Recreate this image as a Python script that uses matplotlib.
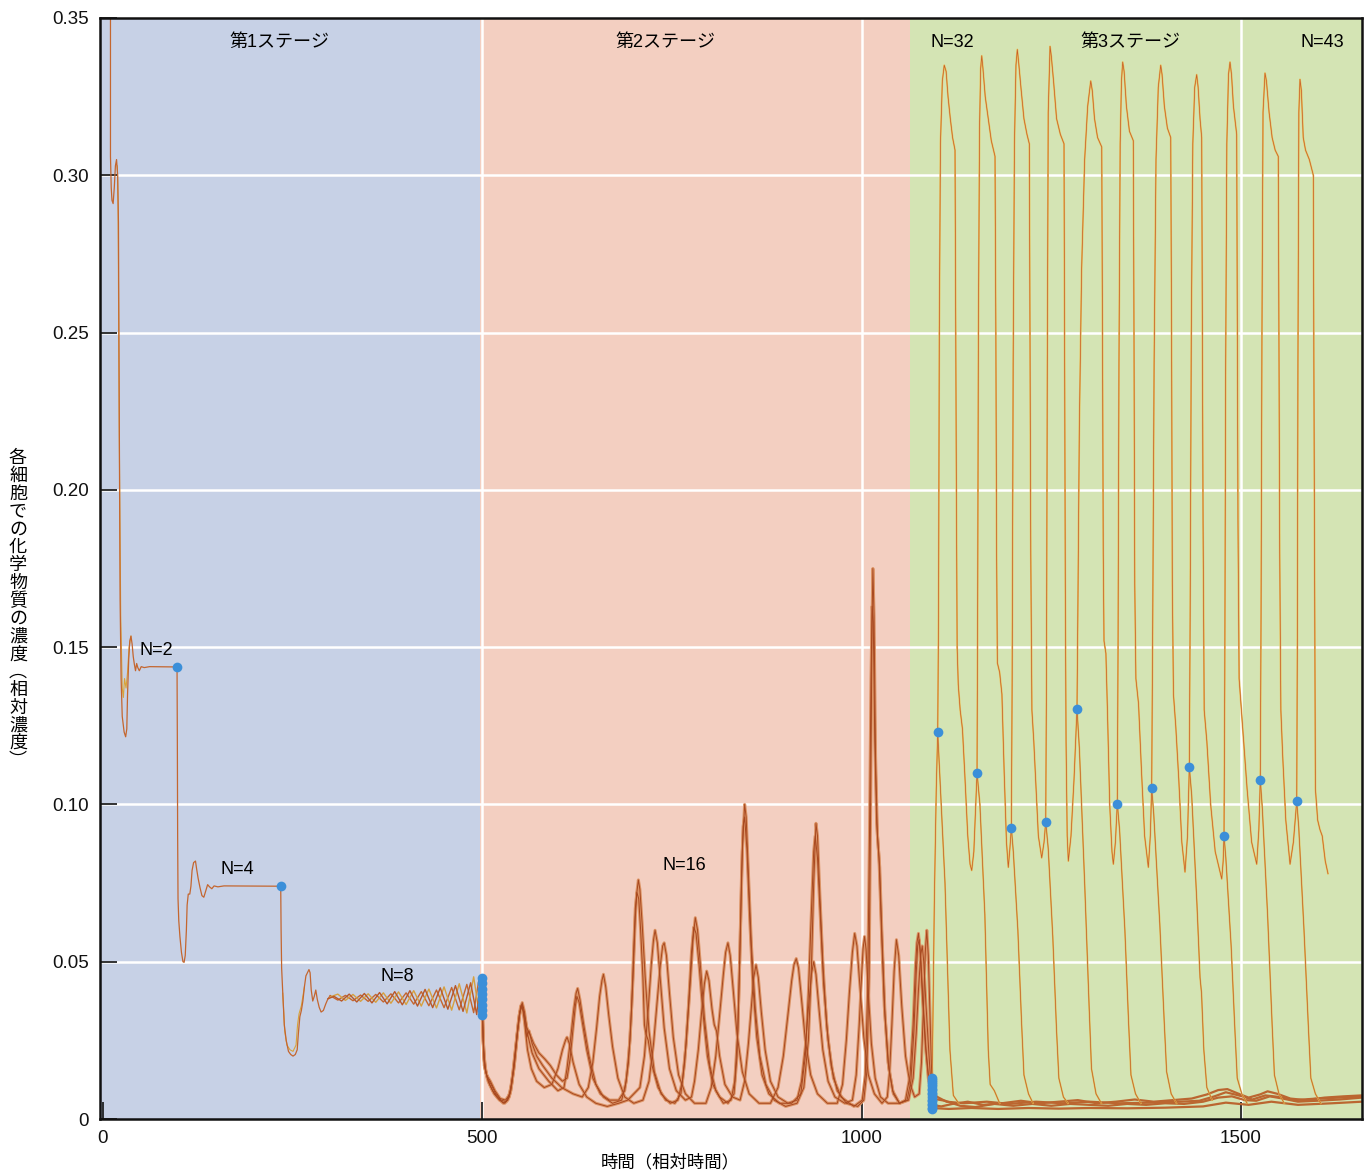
import matplotlib
matplotlib.use("Agg")
import matplotlib.pyplot as plt

plt.rcParams['font.family'] = ['Liberation Sans', 'Noto Sans CJK JP', 'DejaVu Sans']

# ---------------- data: time (relative) vs. concentration (relative) ----------------
# Stage 1: N=2 -> N=4 -> N=8
N2_MAIN = [(10.5, 0.36), (10.5, 0.306), (11.5, 0.296), (12.5, 0.292), (14, 0.291), (15.5, 0.296),
           (17, 0.303), (18.5, 0.305), (20, 0.300), (21, 0.285), (21.8, 0.24), (22.5, 0.20),
           (23.2, 0.165), (24.5, 0.14), (26, 0.128), (28.5, 0.123), (30.5, 0.1215), (32, 0.124),
           (33, 0.135), (34.5, 0.146), (36, 0.152), (37.5, 0.1535), (39, 0.151), (40.5, 0.147),
           (42, 0.1445), (43.5, 0.1425), (45, 0.1448), (46.5, 0.1435), (48.5, 0.1425), (51, 0.1438),
           (55, 0.1435), (62, 0.1438), (98.2, 0.1437)]
N2_ALT = [(19.5, 0.303), (20.5, 0.29), (22, 0.22), (24, 0.16), (26, 0.137), (27.5, 0.134), (29, 0.14),
          (31, 0.137), (33, 0.142), (35, 0.15), (37.5, 0.1535)]
N4_MAIN = [(98.2, 0.1437), (98.6, 0.12), (99, 0.09), (99.5, 0.070), (100.5, 0.063), (102, 0.058),
           (104, 0.053), (106, 0.050), (107.5, 0.0498), (109, 0.052), (110.5, 0.060), (111.5, 0.068),
           (113, 0.0715), (115, 0.0715), (116.5, 0.074), (118, 0.079), (120, 0.0815), (122.5, 0.082),
           (124, 0.0795), (126, 0.0765), (128.5, 0.0735), (131, 0.071), (133.5, 0.0705), (136, 0.0725),
           (138.5, 0.0745), (141, 0.0738), (144, 0.0732), (147, 0.0741), (152, 0.0738), (160, 0.0741),
           (234.8, 0.074)]
N8_MAIN = [(234.8, 0.074), (235.3, 0.060), (236, 0.048), (237.5, 0.040), (239.5, 0.030), (242, 0.025),
           (245, 0.0215), (248, 0.0205), (251, 0.0200), (254, 0.0205), (256.5, 0.022), (258, 0.027),
           (260, 0.0325), (262, 0.0345), (264, 0.0375), (266, 0.042), (268, 0.0455), (270, 0.0465),
           (272, 0.0475), (273.5, 0.0465), (275, 0.041), (277, 0.0375), (279, 0.039), (281, 0.041),
           (283, 0.038), (285.5, 0.0355), (288, 0.034), (291, 0.0345), (294, 0.0365), (297, 0.0382),
           (300, 0.0392)]
N8_ALT = [(237.5, 0.040), (240, 0.028), (243, 0.0235), (247, 0.022), (251, 0.0215), (255, 0.0235),
          (257, 0.030), (259, 0.0335), (262, 0.036), (266, 0.042)]
OSC_A = [(300, 0.0392), (310, 0.0378), (320, 0.0393), (330, 0.0376), (340, 0.0394), (350, 0.0374),
         (360, 0.0396), (370, 0.0372), (380, 0.0398), (390, 0.0369), (400, 0.0401), (410, 0.0365),
         (420, 0.0405), (430, 0.0360), (440, 0.0410), (450, 0.0354), (460, 0.0418), (470, 0.0347),
         (480, 0.0428), (489, 0.0338), (496, 0.0445), (500, 0.0447)]
OSC_B = [(300, 0.0388), (310, 0.0397), (320, 0.0377), (330, 0.0396), (340, 0.0374), (350, 0.0398),
         (360, 0.0371), (370, 0.0401), (380, 0.0368), (390, 0.0404), (400, 0.0364), (410, 0.0408),
         (420, 0.0359), (430, 0.0413), (440, 0.0353), (450, 0.0420), (460, 0.0346), (470, 0.0430),
         (480, 0.0337), (489, 0.0452), (496, 0.0340), (500, 0.0335)]
OSC_C = [(297, 0.0382), (305, 0.0390), (315, 0.0375), (325, 0.0397), (335, 0.0372), (345, 0.0399),
         (355, 0.0369), (365, 0.0402), (375, 0.0366), (385, 0.0405), (395, 0.0363), (405, 0.0408),
         (415, 0.0359), (425, 0.0412), (435, 0.0354), (445, 0.0417), (455, 0.0349), (465, 0.0424),
         (475, 0.0342), (485, 0.0433), (493, 0.0332), (498, 0.0440), (500, 0.0415)]

# Stage 2: N=16, four synchronised groups of cells
GROUP_1 = [(500, 0.042), (501, 0.030), (503, 0.017), (507, 0.013), (512, 0.011), (518, 0.008), (525, 0.006),
           (532, 0.0055), (538, 0.009), (543, 0.018), (547, 0.028), (550, 0.034), (553, 0.037), (556, 0.034),
           (560, 0.027), (566, 0.021), (575, 0.016), (588, 0.012), (600, 0.009), (608, 0.010),
           (612, 0.016), (617, 0.026), (621, 0.035), (624, 0.040), (626, 0.0415), (629, 0.038), (634, 0.030),
           (641, 0.020), (650, 0.011), (660, 0.007), (672, 0.005), (684, 0.006),
           (690, 0.012), (695, 0.025), (699, 0.045), (702, 0.064), (704, 0.072), (706, 0.076), (708, 0.073),
           (711, 0.062), (715, 0.045), (720, 0.028), (727, 0.015), (736, 0.008), (748, 0.005), (758, 0.006),
           (764, 0.012), (769, 0.024), (774, 0.042), (778, 0.057), (781, 0.064), (784, 0.060), (788, 0.048),
           (793, 0.032), (800, 0.017), (808, 0.009), (818, 0.005), (828, 0.006),
           (833, 0.012), (837, 0.028), (840, 0.055), (843, 0.085), (846, 0.100), (848, 0.096), (851, 0.078),
           (855, 0.055), (860, 0.035), (866, 0.020), (874, 0.011), (885, 0.006), (900, 0.004), (915, 0.005),
           (924, 0.010), (930, 0.025), (934, 0.048), (937, 0.075), (940, 0.094), (942, 0.090), (945, 0.072),
           (949, 0.050), (954, 0.030), (960, 0.017), (968, 0.009), (980, 0.005), (995, 0.004), (1003, 0.006),
           (1007, 0.015), (1010, 0.045), (1012, 0.100), (1014, 0.160), (1015, 0.175), (1016.5, 0.160),
           (1018.5, 0.115), (1021, 0.090), (1024, 0.080), (1027, 0.058), (1031, 0.033), (1036, 0.016),
           (1042, 0.008), (1050, 0.005), (1058, 0.006),
           (1064, 0.014), (1068, 0.030), (1071, 0.048), (1073, 0.056), (1075, 0.059), (1077, 0.054),
           (1080, 0.040), (1084, 0.024), (1088, 0.013), (1093, 0.008)]
GROUP_2 = [(500, 0.038), (501.5, 0.025), (504, 0.016), (508, 0.012), (514, 0.009), (520, 0.007), (528, 0.005),
           (534, 0.006), (539, 0.011), (544, 0.022), (548, 0.031), (551, 0.036), (553, 0.0365), (556, 0.032),
           (559, 0.026), (562, 0.028), (566, 0.024), (572, 0.020), (580, 0.017), (592, 0.013), (605, 0.010),
           (620, 0.008), (632, 0.007),
           (640, 0.010), (646, 0.018), (651, 0.029), (655, 0.039), (658, 0.044), (660, 0.046), (663, 0.042),
           (667, 0.033), (672, 0.023), (679, 0.013), (688, 0.007), (700, 0.005), (712, 0.006),
           (720, 0.012), (726, 0.024), (731, 0.038), (735, 0.049), (738, 0.055), (740, 0.056), (743, 0.052),
           (747, 0.040), (752, 0.026), (759, 0.014), (768, 0.008), (780, 0.005), (795, 0.005),
           (802, 0.010), (808, 0.020), (813, 0.033), (818, 0.046), (821, 0.053), (824, 0.056), (827, 0.052),
           (831, 0.041), (836, 0.027), (843, 0.015), (852, 0.008), (865, 0.005), (880, 0.005),
           (890, 0.010), (897, 0.020), (903, 0.033), (908, 0.044), (911, 0.049), (914, 0.051), (917, 0.048),
           (921, 0.038), (926, 0.025), (933, 0.014), (942, 0.008), (955, 0.005), (968, 0.005),
           (975, 0.011), (980, 0.025), (984, 0.040), (988, 0.053), (991, 0.059), (994, 0.055), (998, 0.042),
           (1003, 0.026), (1009, 0.014), (1017, 0.008), (1027, 0.005), (1034, 0.007),
           (1037, 0.015), (1040, 0.030), (1043, 0.047), (1046, 0.057), (1049, 0.052), (1053, 0.036),
           (1058, 0.020), (1064, 0.011), (1070, 0.007), (1076, 0.008),
           (1079, 0.018), (1082, 0.038), (1084, 0.053), (1086, 0.060), (1088, 0.052), (1090, 0.035),
           (1092, 0.018), (1093, 0.011)]
GROUP_3 = [(500, 0.035), (502, 0.022), (505, 0.015), (510, 0.011), (516, 0.008), (523, 0.006), (530, 0.005),
           (536, 0.007), (541, 0.015), (546, 0.026), (550, 0.034), (553, 0.036), (556, 0.031), (560, 0.022),
           (565, 0.016), (572, 0.012), (582, 0.010), (592, 0.011), (600, 0.016), (606, 0.022), (610, 0.025),
           (612, 0.026), (615, 0.024), (620, 0.018), (628, 0.011), (638, 0.007), (650, 0.005), (665, 0.004),
           (680, 0.005), (692, 0.006),
           (708, 0.010), (714, 0.020), (719, 0.035), (723, 0.049), (726, 0.057), (728, 0.060), (731, 0.056),
           (735, 0.044), (740, 0.029), (747, 0.016), (756, 0.009), (768, 0.006), (776, 0.007),
           (780, 0.012), (785, 0.022), (789, 0.033), (793, 0.043), (796, 0.047), (799, 0.044), (803, 0.035),
           (806, 0.030), (809, 0.028), (813, 0.020), (820, 0.011), (830, 0.007), (840, 0.006),
           (846, 0.012), (851, 0.024), (855, 0.036), (858, 0.045), (861, 0.049), (864, 0.045), (868, 0.034),
           (873, 0.022), (880, 0.012), (890, 0.007), (903, 0.005), (915, 0.006),
           (921, 0.012), (926, 0.023), (930, 0.035), (934, 0.046), (937, 0.050), (940, 0.046), (944, 0.035),
           (949, 0.022), (956, 0.012), (965, 0.007), (978, 0.005), (988, 0.006),
           (993, 0.014), (997, 0.030), (1000, 0.045), (1002, 0.054), (1004, 0.058), (1006, 0.054),
           (1009, 0.040), (1013, 0.024), (1018, 0.013), (1025, 0.007), (1035, 0.005), (1050, 0.005),
           (1062, 0.006),
           (1068, 0.013), (1072, 0.027), (1075, 0.041), (1078, 0.052), (1080, 0.055), (1082, 0.050),
           (1085, 0.036), (1089, 0.020), (1093, 0.005)]
GROUP_4 = [(500, 0.045), (501, 0.032), (502.5, 0.019), (506, 0.014), (511, 0.012), (517, 0.009), (524, 0.0065),
           (531, 0.006), (537, 0.008), (542, 0.016), (546, 0.026), (549, 0.033), (552, 0.036), (555, 0.034),
           (559, 0.029), (563, 0.027), (568, 0.024), (575, 0.021), (583, 0.019), (590, 0.017), (598, 0.014),
           (606, 0.012), (612, 0.013), (616, 0.019), (620, 0.029), (623, 0.036), (625, 0.039), (628, 0.037),
           (632, 0.031), (638, 0.022), (646, 0.013), (656, 0.008), (668, 0.006), (680, 0.006),
           (688, 0.009), (693, 0.018), (697, 0.035), (700, 0.055), (702, 0.067), (704, 0.072), (706.5, 0.070),
           (709, 0.060), (712, 0.045), (714, 0.030), (716, 0.027), (719, 0.025), (724, 0.017), (732, 0.010),
           (742, 0.006), (754, 0.005), (762, 0.008), (767, 0.018), (772, 0.036), (776, 0.053), (779, 0.061),
           (782, 0.059), (786, 0.049), (791, 0.034), (797, 0.020), (804, 0.011), (813, 0.007), (824, 0.005),
           (832, 0.008), (836, 0.020), (839, 0.045), (842, 0.078), (844, 0.093), (846, 0.096), (849, 0.086),
           (853, 0.062), (857, 0.042), (862, 0.026), (869, 0.014), (878, 0.008), (892, 0.005), (908, 0.005),
           (920, 0.008), (926, 0.020), (930, 0.040), (934, 0.066), (937, 0.085), (939, 0.090), (942, 0.083),
           (946, 0.063), (950, 0.043), (956, 0.025), (963, 0.013), (973, 0.007), (990, 0.004), (1001, 0.006),
           (1005, 0.014), (1008, 0.040), (1010.5, 0.090), (1012.5, 0.140), (1014, 0.163), (1015.5, 0.158),
           (1017.5, 0.120), (1020, 0.094), (1023, 0.083), (1026, 0.062), (1030, 0.036), (1035, 0.018),
           (1041, 0.009), (1050, 0.005), (1060, 0.006), (1065, 0.012), (1069, 0.028), (1072, 0.046),
           (1074, 0.055), (1076, 0.057), (1078, 0.052), (1081, 0.038), (1085, 0.022), (1089, 0.012),
           (1093, 0.007)]

# Stage 3: the dividing lineage (one cell climbs, its sister falls) from N=32 to N=43
LINEAGE = [(1092.8, 0.010), (1094, 0.03), (1096, 0.07), (1098.5, 0.105), (1100.4, 0.123),
           (1101.5, 0.16), (1102.5, 0.25), (1104, 0.31), (1106.5, 0.330), (1109, 0.335), (1111.5, 0.333),
           (1114, 0.325), (1117, 0.318), (1120, 0.312), (1123.2, 0.308), (1124, 0.26), (1125, 0.20),
           (1126, 0.15), (1127.5, 0.138), (1130, 0.130), (1133, 0.124), (1136, 0.11), (1140, 0.09),
           (1143, 0.081), (1145.2, 0.079), (1148, 0.085), (1150.5, 0.100), (1152.2, 0.110),
           (1153, 0.16), (1154, 0.25), (1155.5, 0.315), (1157, 0.334), (1158.4, 0.338), (1160, 0.334),
           (1163, 0.325), (1167, 0.318), (1171, 0.311), (1175.9, 0.306), (1177, 0.25), (1178, 0.18),
           (1179, 0.145), (1182, 0.142), (1185, 0.135), (1188, 0.11), (1191, 0.088), (1193.4, 0.080),
           (1195.5, 0.086), (1197.4, 0.0925),
           (1198.5, 0.14), (1199.8, 0.24), (1201.5, 0.31), (1203.5, 0.335), (1205.3, 0.340), (1207, 0.336),
           (1210, 0.328), (1214, 0.318), (1218, 0.313), (1221.1, 0.310), (1222, 0.25), (1223, 0.18),
           (1224.5, 0.13), (1227, 0.12), (1230, 0.105), (1233, 0.09), (1237.4, 0.083), (1240.5, 0.088),
           (1242.7, 0.0945),
           (1243.7, 0.14), (1244.8, 0.24), (1246, 0.32), (1248.4, 0.341), (1250, 0.338), (1253, 0.330),
           (1257, 0.318), (1262, 0.313), (1266.8, 0.310), (1267.5, 0.25), (1268.5, 0.17), (1269.5, 0.12),
           (1271, 0.09), (1272.5, 0.082), (1276, 0.090), (1280, 0.108), (1283.9, 0.1303),
           (1285, 0.16), (1287, 0.22), (1290, 0.27), (1294, 0.305), (1298, 0.322), (1302, 0.330),
           (1304, 0.327), (1307, 0.318), (1311, 0.312), (1316.5, 0.309), (1317.5, 0.25), (1318.5, 0.18),
           (1319.5, 0.152), (1322, 0.148), (1324, 0.13), (1327, 0.10), (1330, 0.085), (1331.8, 0.081),
           (1334.5, 0.088), (1337.0, 0.1002),
           (1338, 0.15), (1339.2, 0.24), (1340.8, 0.31), (1342.5, 0.330), (1344.1, 0.336), (1346, 0.333),
           (1349, 0.322), (1353, 0.314), (1358.1, 0.311), (1359, 0.25), (1360, 0.17), (1361.5, 0.14),
           (1365, 0.132), (1369, 0.11), (1373, 0.09), (1377.9, 0.080), (1380.5, 0.090), (1382.3, 0.1053),
           (1383.5, 0.15), (1385.5, 0.24), (1388, 0.305), (1391, 0.328), (1394.2, 0.335), (1396, 0.332),
           (1399, 0.322), (1403, 0.315), (1407.4, 0.312), (1408.5, 0.25), (1409.5, 0.17), (1411, 0.135),
           (1414, 0.125), (1418, 0.108), (1422, 0.088), (1426.2, 0.0785), (1429.5, 0.09), (1431.9, 0.1118),
           (1433, 0.16), (1434.5, 0.25), (1436.5, 0.31), (1439, 0.328), (1441.6, 0.332), (1443.5, 0.328),
           (1446, 0.318), (1448.2, 0.312), (1449, 0.26), (1450, 0.19), (1451.5, 0.13), (1455, 0.12),
           (1460, 0.10), (1466, 0.085), (1474.6, 0.0763), (1476.5, 0.082), (1477.6, 0.090),
           (1478.6, 0.14), (1479.8, 0.24), (1481.3, 0.31), (1483.5, 0.332), (1485.5, 0.336), (1487.5, 0.332),
           (1490, 0.322), (1494.3, 0.313), (1495, 0.26), (1496, 0.19), (1497.5, 0.14), (1502, 0.125),
           (1508, 0.105), (1514, 0.088), (1520.7, 0.081), (1523.5, 0.092), (1525.4, 0.1078),
           (1526.4, 0.16), (1527.6, 0.25), (1529, 0.32), (1531.6, 0.3325), (1533.5, 0.330), (1537, 0.320),
           (1541, 0.312), (1545, 0.308), (1549.1, 0.306), (1550, 0.25), (1551, 0.18), (1552.5, 0.13),
           (1555, 0.115), (1559, 0.095), (1564.6, 0.081), (1569, 0.088), (1573.4, 0.1010),
           (1574.2, 0.15), (1575, 0.24), (1576.2, 0.32), (1577.7, 0.3305), (1579.5, 0.327), (1581, 0.318),
           (1582, 0.312), (1585, 0.308), (1590, 0.305), (1595.3, 0.30), (1596, 0.24), (1597, 0.17),
           (1598, 0.105), (1601, 0.095), (1604, 0.092), (1607, 0.09), (1611, 0.082), (1614.6, 0.078)]

SISTERS = [
    [(1100.4, 0.123), (1103, 0.11), (1110, 0.075), (1116.5, 0.022), (1121, 0.0075), (1128, 0.005)],
    [(1152.2, 0.110), (1156, 0.100), (1162.5, 0.065), (1167, 0.022), (1169.5, 0.011), (1175, 0.009), (1182, 0.005)],
    [(1197.4, 0.0925), (1200, 0.085), (1206, 0.060), (1211, 0.030), (1214, 0.014), (1220, 0.008), (1226, 0.005)],
    [(1242.7, 0.0945), (1246, 0.086), (1252, 0.058), (1257, 0.028), (1260, 0.013), (1266, 0.007), (1272, 0.005)],
    [(1283.9, 0.1303), (1287, 0.118), (1294, 0.075), (1300, 0.035), (1303, 0.016), (1309, 0.008), (1316, 0.005)],
    [(1337.0, 0.1002), (1340, 0.092), (1347, 0.060), (1352, 0.030), (1355, 0.014), (1361, 0.008), (1368, 0.005)],
    [(1382.3, 0.1053), (1385, 0.097), (1393, 0.062), (1399, 0.030), (1402, 0.015), (1408, 0.008), (1415, 0.005)],
    [(1431.9, 0.1118), (1435, 0.103), (1442, 0.068), (1446, 0.045), (1448, 0.040), (1451, 0.022), (1455, 0.010), (1462, 0.006)],
    [(1477.6, 0.0900), (1480, 0.083), (1487, 0.055), (1492, 0.028), (1495, 0.013), (1501, 0.008), (1508, 0.005)],
    [(1525.4, 0.1078), (1528, 0.099), (1535, 0.065), (1541, 0.030), (1544, 0.014), (1550, 0.008), (1557, 0.005)],
    [(1573.4, 0.1010), (1576, 0.093), (1583, 0.060), (1589, 0.028), (1592, 0.013), (1598, 0.008), (1605, 0.005)],
]

LOW_1 = [(1093, 0.0045), (1105, 0.004), (1120, 0.0048), (1140, 0.0055), (1160, 0.0045), (1185, 0.005),
         (1210, 0.0058), (1235, 0.005), (1260, 0.0055), (1285, 0.006), (1310, 0.005), (1335, 0.0055),
         (1360, 0.0062), (1385, 0.0055), (1410, 0.006), (1435, 0.0065), (1455, 0.0078), (1470, 0.0092),
         (1482, 0.0095), (1495, 0.0082), (1510, 0.0068), (1525, 0.0078), (1535, 0.0088), (1548, 0.0080),
         (1565, 0.0065), (1585, 0.006), (1610, 0.0068), (1635, 0.0072), (1659, 0.0075)]
LOW_2 = [(1093, 0.0065), (1110, 0.0058), (1130, 0.0042), (1150, 0.0038), (1175, 0.0048), (1200, 0.0042),
         (1225, 0.0048), (1250, 0.0042), (1275, 0.0048), (1300, 0.0045), (1325, 0.0042), (1350, 0.0048),
         (1375, 0.0045), (1400, 0.005), (1425, 0.0048), (1450, 0.0055), (1470, 0.0068), (1488, 0.0072),
         (1505, 0.006), (1520, 0.0058), (1538, 0.0072), (1555, 0.0065), (1575, 0.0055), (1600, 0.0058),
         (1630, 0.0062), (1659, 0.0068)]
LOW_3 = [(1093, 0.0085), (1100, 0.007), (1112, 0.0055), (1135, 0.005), (1165, 0.0055), (1195, 0.0048),
         (1230, 0.0055), (1265, 0.005), (1300, 0.0055), (1340, 0.005), (1380, 0.0052), (1420, 0.0055),
         (1445, 0.0058), (1465, 0.0072), (1480, 0.0085), (1497, 0.0075), (1515, 0.0062), (1532, 0.0075),
         (1550, 0.007), (1570, 0.006), (1600, 0.0065), (1630, 0.0068), (1659, 0.0072)]
LOW_4 = [(1093, 0.0035), (1115, 0.0032), (1145, 0.0035), (1180, 0.0032), (1220, 0.0035), (1260, 0.0033),
         (1300, 0.0035), (1350, 0.0034), (1400, 0.0036), (1450, 0.004), (1480, 0.0052), (1510, 0.0045),
         (1540, 0.0055), (1575, 0.0045), (1620, 0.005), (1659, 0.0055)]

# division points (blue markers)
DIV_SINGLE_T = [98.2, 234.8, 1100.4, 1152.2, 1197.4, 1242.7, 1283.9, 1337.0, 1382.3, 1431.9, 1477.6, 1525.4, 1573.4]
DIV_SINGLE_C = [0.1437, 0.074, 0.123, 0.110, 0.0925, 0.0945, 0.1303, 0.1002, 0.1053, 0.1118, 0.0900, 0.1078, 0.1010]
DIV_N8_T = 500
DIV_N8_C = [0.0332, 0.0348, 0.0362, 0.0381, 0.0396, 0.0412, 0.0431, 0.0447]
DIV_N16_T = 1092.8
DIV_N16_C = [0.0031, 0.0036, 0.0045, 0.0049, 0.0058, 0.0061, 0.0069, 0.0078, 0.0082, 0.0091, 0.0096,
             0.0104, 0.0112, 0.0118, 0.0124, 0.0131]

STAGES = [(-10, 497, '#c7d1e6', '第1ステージ', 233),
          (497, 1064, '#f3cfc1', '第2ステージ', 742),
          (1064, 1670, '#d4e4b4', '第3ステージ', 1354)]
COUNT_LABELS = [('N=2', 71, 0.149), ('N=4', 178, 0.0794), ('N=8', 389, 0.0452),
                ('N=16', 767, 0.0805), ('N=32', 1119, 0.3423), ('N=43', 1607, 0.3423)]

Y_TICKS = [0, 0.05, 0.10, 0.15, 0.20, 0.25, 0.30, 0.35]
Y_TICK_LABELS = ['0', '0.05', '0.10', '0.15', '0.20', '0.25', '0.30', '0.35']
X_TICKS = [0, 500, 1000, 1500]


def xy(points):
    return [p[0] for p in points], [p[1] for p in points]


fig = plt.figure(figsize=(13.7, 11.76), dpi=100)
ax = fig.add_axes([100 / 1370, 57 / 1176, 1262 / 1370, 1101 / 1176])
ax.set_xlim(-3.3, 1659.4)
ax.set_ylim(0, 0.35)

# stage backgrounds and white grid
for x0, x1, col, name, xt in STAGES:
    ax.axvspan(x0, x1, color=col, zorder=0, lw=0)
    ax.text(xt, 0.3423, name, ha='center', va='center', fontsize=13, zorder=6)
for yv in Y_TICKS[1:-1]:
    ax.axhline(yv, color='white', lw=1.8, zorder=0.5)
for xv in X_TICKS[1:]:
    ax.axvline(xv, color='white', lw=1.8, zorder=0.5)

# stage 1
thin = dict(color='#c4662f', lw=0.9, zorder=2)
ax.plot(*xy(N2_ALT), color='#d9a43a', lw=0.8, zorder=2)
ax.plot(*xy(N2_MAIN), **thin)
ax.plot(*xy(N4_MAIN), **thin)
ax.plot(*xy(N8_ALT), color='#d9a43a', lw=0.8, zorder=2)
ax.plot(*xy(N8_MAIN), **thin)
ax.plot(*xy(OSC_A), color='#c4662f', lw=1.0, zorder=2)
ax.plot(*xy(OSC_B), color='#d6a040', lw=1.0, zorder=2)
ax.plot(*xy(OSC_C), color='#b8582a', lw=1.0, zorder=2)

# stage 2
for grp in (GROUP_1, GROUP_2, GROUP_3, GROUP_4):
    ax.plot(*xy(grp), color='#dc9466', lw=2.2, zorder=2, solid_joinstyle='round')
    ax.plot(*xy(grp), color='#a8481f', lw=0.7, zorder=2.1)

# stage 3
for low in (LOW_4, LOW_2, LOW_1, LOW_3):
    ax.plot(*xy(low), color='#bb6630', lw=1.6, zorder=2)
for sis in SISTERS:
    ax.plot(*xy(sis), color='#e4bb52', lw=1.2, zorder=2)
    ax.plot(*xy(sis), color='#c0602c', lw=0.5, zorder=2.1)
ax.plot(*xy(LINEAGE), color='#e8c25a', lw=1.3, zorder=2)
ax.plot(*xy(LINEAGE), color='#c65a2a', lw=0.5, zorder=2.1)

# division markers
dot = dict(color='#3b8fd9', marker='o', ms=7, ls='none', zorder=4, markeredgewidth=0)
ax.plot(DIV_SINGLE_T, DIV_SINGLE_C, **dot)
ax.plot([DIV_N8_T] * len(DIV_N8_C), DIV_N8_C, **dot)
ax.plot([DIV_N16_T] * len(DIV_N16_C), DIV_N16_C, **dot)

for txt, xt, yt in COUNT_LABELS:
    ax.text(xt, yt, txt, ha='center', va='center', fontsize=13, zorder=6)

# axes styling
ax.set_yticks(Y_TICKS)
ax.set_yticklabels(Y_TICK_LABELS)
ax.set_xticks(X_TICKS)
ax.set_xticklabels([str(v) for v in X_TICKS])
ax.tick_params(direction='in', length=12, width=1.2, labelsize=13.5, pad=8, colors='#111111')
for s in ax.spines.values():
    s.set_linewidth(1.8)
    s.set_color('#111111')
    s.set_zorder(5)

ax.set_xlabel('時間（相対時間）', fontsize=12.5, va='center')
ax.xaxis.set_label_coords((670 - 100) / 1262, (1119 - 1162) / 1101)
ax.set_ylabel('\n'.join('各細胞での化学物質の濃度︵相対濃度︶'), rotation=0, fontsize=13,
              linespacing=1.06, ha='center', va='center')
ax.yaxis.set_label_coords((18 - 100) / 1262, (1119 - 610) / 1101)

fig.savefig('out.png', dpi=100, facecolor='white')
